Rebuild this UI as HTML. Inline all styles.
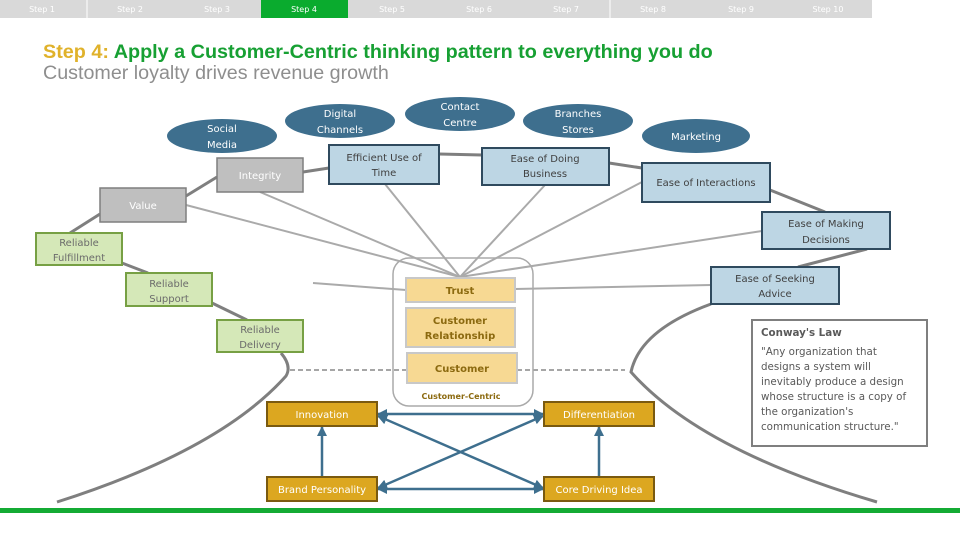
<!DOCTYPE html>
<html><head><meta charset="utf-8"><style>
body{margin:0;background:#fff;width:960px;height:540px;overflow:hidden}
svg text{font-family:"DejaVu Sans","Liberation Sans",sans-serif}
</style></head><body>
<svg width="960" height="540" viewBox="0 0 960 540" xmlns="http://www.w3.org/2000/svg">
<defs>
<marker id="ar" viewBox="0 0 10 10" refX="9" refY="5" markerWidth="4" markerHeight="4" orient="auto-start-reverse"><path d="M0,0L10,5L0,10z" fill="#3e6f8e"/></marker>
</defs>
<rect x="0" y="0" width="872" height="18" fill="#d9d9d9"/>
<rect x="261" y="0" width="87" height="18" fill="#0aab2e"/>
<line x1="87" y1="0" x2="87" y2="18" stroke="#fff"/>
<line x1="610" y1="0" x2="610" y2="18" stroke="#fff"/>
<g font-size="8" fill="#fff" text-anchor="middle">
<text x="42" y="12">Step 1</text><text x="130" y="12">Step 2</text><text x="217" y="12">Step 3</text><text x="304" y="12">Step 4</text><text x="392" y="12">Step 5</text><text x="479" y="12">Step 6</text><text x="566" y="12">Step 7</text><text x="653" y="12">Step 8</text><text x="741" y="12">Step 9</text><text x="828" y="12">Step 10</text>
</g>
<text x="43" y="58" font-size="19.8" font-weight="bold" style="font-family:'Liberation Sans',sans-serif"><tspan fill="#e0b22b">Step 4: </tspan><tspan fill="#17a033">Apply a Customer-Centric thinking pattern to everything you do</tspan></text>
<text x="43" y="79" font-size="19.7" fill="#8e8e8e" style="font-family:'Liberation Sans',sans-serif">Customer loyalty drives revenue growth</text>
<g stroke="#aaa" stroke-width="2" fill="none">
<line x1="186" y1="205" x2="460" y2="277"/>
<line x1="260" y1="192" x2="460" y2="277"/>
<line x1="385" y1="184" x2="460" y2="277"/>
<line x1="545" y1="185" x2="460" y2="277"/>
<line x1="642" y1="182" x2="460" y2="277"/>
<line x1="762" y1="231" x2="460" y2="277"/>
<line x1="313" y1="283" x2="406" y2="290"/>
<line x1="515" y1="289" x2="711" y2="285"/>
</g>
<g stroke="#7f7f7f" stroke-width="3" fill="none">
<path d="M100,214 L70,233"/>
<path d="M122,263 L148,273"/>
<path d="M212,303 L247,320"/>
<path d="M186,196 L217,177"/>
<path d="M303,172 L329,168"/>
<path d="M439,154 L482,155"/>
<path d="M609,163 L642,168"/>
<path d="M770,190 L825,212"/>
<path d="M867,249 L798,267"/>
<path d="M281,353 Q292,366 286,376 Q220,450 57,502"/>
<path d="M711,304 Q640,330 631,372 Q700,450 877,502"/>
</g>
<g stroke="#888" stroke-width="1.5" stroke-dasharray="5,3">
<line x1="290" y1="370" x2="406" y2="370"/><line x1="517" y1="370" x2="625" y2="370"/>
</g>
<rect x="393" y="258" width="140" height="148" rx="16" fill="none" stroke="#aaa" stroke-width="1.5"/>
<g stroke="#c8c8c8" fill="#f7d993" stroke-width="2">
<rect x="406" y="278" width="109" height="24"/><rect x="406" y="308" width="109" height="39"/><rect x="407" y="353" width="110" height="30"/>
</g>
<g font-size="10" font-weight="bold" fill="#8c6a10" text-anchor="middle">
<text x="460" y="294">Trust</text><text x="460" y="324">Customer</text><text x="460" y="339">Relationship</text><text x="462" y="372">Customer</text>
</g>
<text x="461" y="399" font-size="8" fill="#8c6a10" text-anchor="middle" font-weight="bold">Customer-Centric</text>
<g fill="#3e6f8e">
<ellipse cx="222" cy="136" rx="55" ry="17"/><ellipse cx="340" cy="121" rx="55" ry="17"/><ellipse cx="460" cy="114" rx="55" ry="17"/><ellipse cx="578" cy="121" rx="55" ry="17"/><ellipse cx="696" cy="136" rx="54" ry="17"/>
</g>
<g font-size="10" fill="#fff" text-anchor="middle">
<text x="222" y="132">Social</text><text x="222" y="148">Media</text>
<text x="340" y="117">Digital</text><text x="340" y="133">Channels</text>
<text x="460" y="110">Contact</text><text x="460" y="126">Centre</text>
<text x="578" y="117">Branches</text><text x="578" y="133">Stores</text>
<text x="696" y="140">Marketing</text>
</g>
<g fill="#bfbfbf" stroke="#7f7f7f" stroke-width="1.5">
<rect x="217" y="158" width="86" height="34"/><rect x="100" y="188" width="86" height="34"/>
</g>
<g font-size="10" fill="#fff" text-anchor="middle"><text x="260" y="179">Integrity</text><text x="143" y="209">Value</text></g>
<g fill="#bdd6e4" stroke="#2f4a5e" stroke-width="2">
<rect x="329" y="145" width="110" height="39"/><rect x="482" y="148" width="127" height="37"/><rect x="642" y="163" width="128" height="39"/><rect x="762" y="212" width="128" height="37"/><rect x="711" y="267" width="128" height="37"/>
</g>
<g font-size="10" fill="#404040" text-anchor="middle">
<text x="384" y="161">Efficient Use of</text><text x="384" y="176">Time</text>
<text x="545" y="162">Ease of Doing</text><text x="545" y="177">Business</text>
<text x="706" y="186">Ease of Interactions</text>
<text x="826" y="227">Ease of Making</text><text x="826" y="243">Decisions</text>
<text x="775" y="282">Ease of Seeking</text><text x="775" y="297">Advice</text>
</g>
<g fill="#d5e8b8" stroke="#77a044" stroke-width="2">
<rect x="36" y="233" width="86" height="32"/><rect x="126" y="273" width="86" height="33"/><rect x="217" y="320" width="86" height="32"/>
</g>
<g font-size="10" fill="#6b6b6b" text-anchor="middle">
<text x="79" y="246">Reliable</text><text x="79" y="261">Fulfillment</text>
<text x="169" y="287">Reliable</text><text x="169" y="302">Support</text>
<text x="260" y="333">Reliable</text><text x="260" y="348">Delivery</text>
</g>
<rect x="752" y="320" width="175" height="126" fill="#fff" stroke="#7f7f7f" stroke-width="2"/>
<g font-size="10.3" fill="#595959">
<text x="761" y="336" font-weight="bold">Conway's Law</text>
<text x="761" y="355">"Any organization that</text><text x="761" y="370">designs a system will</text><text x="761" y="385">inevitably produce a design</text><text x="761" y="400">whose structure is a copy of</text><text x="761" y="415">the organization's</text><text x="761" y="430">communication structure."</text>
</g>
<g stroke="#3e6f8e" stroke-width="2.5" fill="none" marker-start="url(#ar)" marker-end="url(#ar)">
<line x1="378" y1="414" x2="543" y2="414"/>
<line x1="378" y1="489" x2="543" y2="489"/>
<line x1="378" y1="416" x2="543" y2="488"/>
<line x1="378" y1="488" x2="543" y2="416"/>
</g>
<g stroke="#3e6f8e" stroke-width="2.5" marker-end="url(#ar)">
<line x1="322" y1="477" x2="322" y2="427"/><line x1="599" y1="477" x2="599" y2="427"/>
</g>
<g fill="#dca720" stroke="#7a5a10" stroke-width="2">
<rect x="267" y="402" width="110" height="24"/><rect x="267" y="477" width="110" height="24"/><rect x="544" y="402" width="110" height="24"/><rect x="544" y="477" width="110" height="24"/>
</g>
<g font-size="10" fill="#fff" text-anchor="middle">
<text x="322" y="418">Innovation</text><text x="322" y="493">Brand Personality</text><text x="599" y="418">Differentiation</text><text x="599" y="493">Core Driving Idea</text>
</g>
<rect x="0" y="508" width="960" height="5" fill="#14ab34"/>
</svg>
</body></html>
